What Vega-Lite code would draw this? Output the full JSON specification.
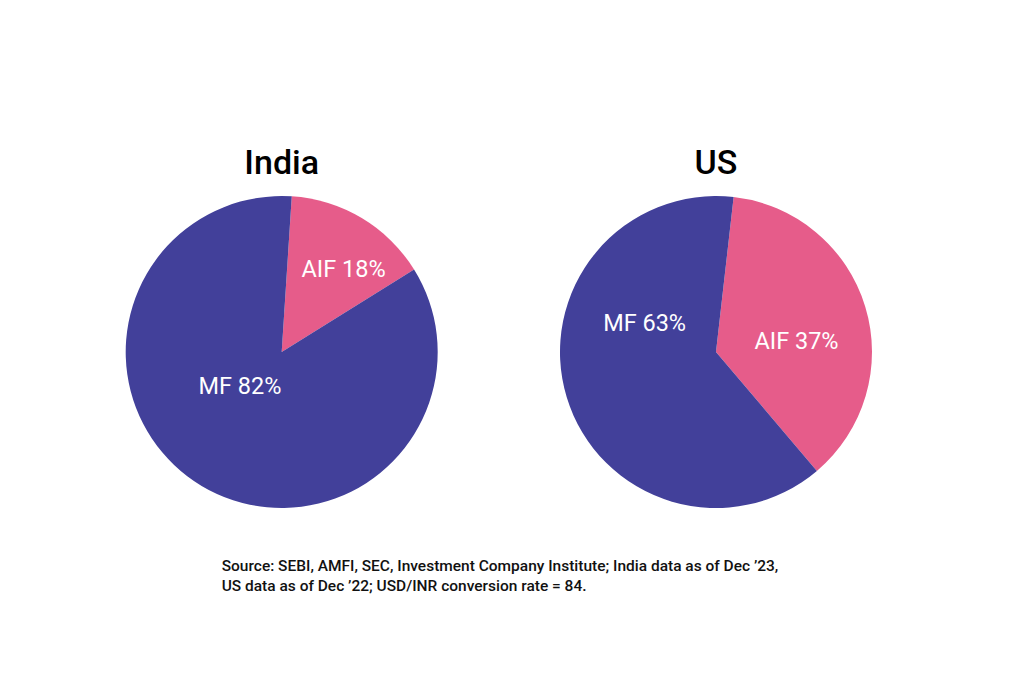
{
  "$schema": "https://vega.github.io/schema/vega-lite/v6.json",
  "background": "white",
  "padding": {"left": 125.7, "top": 147, "right": 0, "bottom": 0},
  "config": {"view": {"stroke": null}, "font": "Roboto"},
  "data": {"values": [
    {"country": "India", "segment": "AIF", "share": 15.1, "label": "AIF 18%"},
    {"country": "India", "segment": "MF", "share": 84.9, "label": "MF 82%"},
    {"country": "US", "segment": "AIF", "share": 37, "label": "AIF 37%"},
    {"country": "US", "segment": "MF", "share": 63, "label": "MF 63%"}
  ]},
  "title": {
    "text": ["Source: SEBI, AMFI, SEC, Investment Company Institute; India data as of Dec ’23,", "US data as of Dec ’22; USD/INR conversion rate = 84."],
    "orient": "bottom", "anchor": "start", "dx": 96, "offset": 51,
    "fontSize": 15.5, "fontWeight": 500, "color": "#111111", "lineHeight": 20,
    "baseline": "top", "font": "Roboto"
  },
  "spacing": 122.3,
  "hconcat": [
    {
      "width": 312, "height": 312,
      "title": {"text": "India", "fontSize": 34, "fontWeight": 500, "color": "#000000", "offset": -12, "baseline": "alphabetic", "font": "Roboto"},
      "transform": [
        {"filter": "datum.country === 'India'"},
        {"stack": "share", "groupby": ["country"], "sort": [{"field": "segment", "order": "ascending"}], "as": ["s0", "s1"]},
        {"calculate": "(datum.s0 + datum.s1) / 2", "as": "mid"}
      ],
      "layer": [
        {
          "mark": {"type": "arc", "outerRadius": 156},
          "encoding": {
            "theta": {"field": "s0", "type": "quantitative", "stack": null, "scale": {"domain": [0, 100], "range": [0.0646, 6.3478]}},
            "theta2": {"field": "s1"},
            "color": {"field": "segment", "type": "nominal", "scale": {"domain": ["AIF", "MF"], "range": ["#E65C8A", "#42409A"]}, "legend": null}
          }
        },
        {
          "transform": [{"filter": "datum.segment === 'AIF'"}],
          "mark": {"type": "text", "radius": 103, "dx": 9, "dy": 6, "fontSize": 23.5, "color": "white", "font": "Roboto"},
          "encoding": {"theta": {"field": "mid", "type": "quantitative", "stack": null}, "text": {"field": "label"}}
        },
        {
          "transform": [{"filter": "datum.segment === 'MF'"}],
          "mark": {"type": "text", "radius": 54, "dx": -14, "dy": -11, "fontSize": 23.5, "color": "white", "font": "Roboto"},
          "encoding": {"theta": {"field": "mid", "type": "quantitative", "stack": null}, "text": {"field": "label"}}
        }
      ]
    },
    {
      "width": 312, "height": 312,
      "title": {"text": "US", "fontSize": 34, "fontWeight": 500, "color": "#000000", "offset": -12, "baseline": "alphabetic", "font": "Roboto"},
      "transform": [
        {"filter": "datum.country === 'US'"},
        {"stack": "share", "groupby": ["country"], "sort": [{"field": "segment", "order": "ascending"}], "as": ["s0", "s1"]},
        {"calculate": "(datum.s0 + datum.s1) / 2", "as": "mid"}
      ],
      "layer": [
        {
          "mark": {"type": "arc", "outerRadius": 156},
          "encoding": {
            "theta": {"field": "s0", "type": "quantitative", "stack": null, "scale": {"domain": [0, 100], "range": [0.1134, 6.3966]}},
            "theta2": {"field": "s1"},
            "color": {"field": "segment", "type": "nominal", "scale": {"domain": ["AIF", "MF"], "range": ["#E65C8A", "#42409A"]}, "legend": null}
          }
        },
        {
          "transform": [{"filter": "datum.segment === 'AIF'"}],
          "mark": {"type": "text", "radius": 81, "dx": 3, "dy": 14, "fontSize": 23.5, "color": "white", "font": "Roboto"},
          "encoding": {"theta": {"field": "mid", "type": "quantitative", "stack": null}, "text": {"field": "label"}}
        },
        {
          "transform": [{"filter": "datum.segment === 'MF'"}],
          "mark": {"type": "text", "radius": 60, "dx": -14, "dy": -45, "fontSize": 23.5, "color": "white", "font": "Roboto"},
          "encoding": {"theta": {"field": "mid", "type": "quantitative", "stack": null}, "text": {"field": "label"}}
        }
      ]
    }
  ]
}
